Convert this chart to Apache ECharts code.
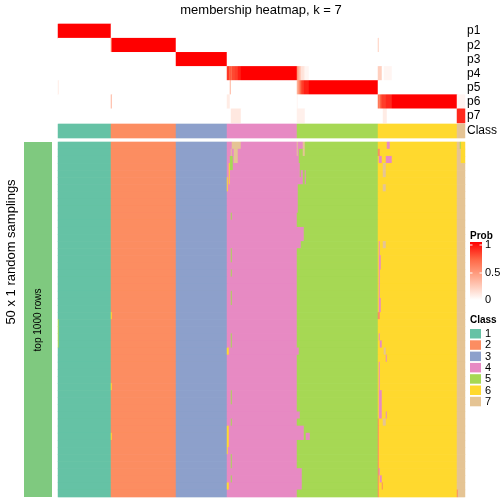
<!DOCTYPE html>
<html><head><meta charset="utf-8">
<script src="https://cdn.jsdelivr.net/npm/echarts@6/dist/echarts.min.js"></script>
<style>html,body{margin:0;padding:0;background:#fff}#c{width:504px;height:504px}</style>
</head><body><div id="c"></div>
<script>
// ---- data ----
const classNames = ['1', '2', '3', '4', '5', '6', '7'];
const classColors = ['#66C2A5', '#FC8D62', '#8DA0CB', '#E78AC3', '#A6D854', '#FFD92F', '#E5C494'];
const classCounts = [53, 65, 51, 70, 81, 79, 8];          // samples per consensus class
const probRowLabels = ['p1', 'p2', 'p3', 'p4', 'p5', 'p6', 'p7'];
const nSamplings = 50;
const probTicks = ['0', '0.5', '1'];
// [probRow, colFrom, colTo, value] : membership probabilities differing from 0/1
const probExceptions = [
  [4, 0, 0, 0.1],
  [1, 53, 53, 0.6], [5, 53, 53, 0.4],
  [3, 169, 169, 0.85], [3, 170, 170, 0.9], [3, 171, 171, 0.75], [3, 172, 172, 0.8], [3, 173, 173, 0.7],
  [3, 174, 176, 0.82], [3, 177, 179, 0.85], [3, 180, 182, 0.92],
  [4, 172, 172, 0.4], [5, 169, 171, 0.1], [6, 173, 182, 0.12],
  [3, 239, 239, 0.55], [3, 240, 240, 0.45], [3, 241, 241, 0.35], [3, 242, 242, 0.3], [3, 243, 245, 0.15],
  [3, 246, 246, 0.1], [3, 247, 250, 0.05],
  [4, 239, 239, 0.4], [4, 240, 240, 0.5], [4, 241, 241, 0.6], [4, 242, 242, 0.7], [4, 243, 243, 0.8],
  [4, 244, 245, 0.85], [4, 246, 250, 0.92],
  [6, 239, 246, 0.08], [5, 239, 239, 0.05],
  [1, 320, 320, 0.25], [3, 320, 323, 0.25], [3, 326, 333, 0.05], [6, 325, 328, 0.1],
  [5, 320, 320, 0.7], [5, 321, 321, 0.6], [5, 322, 322, 0.75], [5, 323, 323, 0.8],
  [5, 324, 327, 0.85], [5, 328, 333, 0.9],
  [6, 399, 406, 0.9], [5, 399, 406, 0.06]
];
// [rowFrom, rowTo, colFrom, colTo, class] : sampling rows where a sample got another class
const samplingExceptions = [
  [25, 28, 0, 0, 5],
  [24, 24, 53, 53, 6], [34, 34, 53, 53, 6], [41, 41, 53, 53, 6],
  [0, 0, 174, 182, 7], [1, 1, 173, 173, 7], [1, 2, 176, 179, 7], [2, 3, 172, 174, 5],
  [3, 5, 171, 171, 6], [5, 6, 169, 169, 6],
  [10, 10, 173, 173, 5], [15, 16, 173, 173, 5], [18, 18, 173, 173, 5], [21, 22, 173, 173, 5],
  [27, 28, 173, 173, 5], [35, 36, 173, 173, 5], [39, 39, 173, 173, 5], [44, 45, 173, 173, 5], [47, 47, 173, 173, 5],
  [29, 29, 169, 170, 6], [40, 42, 169, 170, 6], [43, 43, 169, 169, 6], [48, 48, 169, 170, 6],
  [0, 0, 239, 239, 7], [0, 0, 240, 244, 4], [0, 0, 245, 246, 7],
  [1, 1, 239, 239, 7], [1, 1, 240, 240, 4], [1, 1, 245, 246, 7],
  [2, 2, 239, 240, 4], [3, 3, 239, 241, 4], [4, 5, 239, 244, 4], [4, 5, 247, 247, 4], [4, 4, 242, 242, 5],
  [6, 9, 239, 239, 4], [12, 13, 239, 245, 4], [14, 14, 239, 242, 4],
  [29, 29, 239, 240, 4], [38, 38, 239, 241, 4], [40, 41, 239, 245, 4], [41, 41, 248, 251, 4], [46, 48, 239, 243, 4],
  [0, 0, 329, 331, 4], [1, 1, 320, 321, 2], [2, 2, 321, 323, 4], [2, 2, 328, 333, 4],
  [3, 4, 325, 327, 7], [6, 6, 325, 327, 7], [14, 14, 325, 327, 7],
  [14, 15, 321, 321, 4], [16, 17, 321, 322, 4], [18, 21, 321, 321, 4], [22, 23, 321, 322, 4],
  [24, 24, 320, 321, 2], [27, 27, 321, 321, 4], [28, 28, 322, 323, 4], [29, 29, 326, 327, 7], [30, 30, 328, 328, 4],
  [31, 38, 321, 321, 4], [35, 38, 322, 323, 4], [38, 38, 328, 328, 4], [39, 39, 325, 327, 7], [39, 39, 320, 320, 2],
  [40, 49, 320, 320, 2], [46, 46, 321, 321, 4], [47, 47, 322, 323, 4], [48, 48, 324, 324, 2],
  [0, 2, 403, 406, 6], [0, 0, 402, 402, 5], [49, 49, 399, 399, 2]
];

// ---- build ----
const sampleClass = [];
classCounts.forEach((n, k) => { for (let i = 0; i < n; i++) sampleClass.push(k + 1); });
const colCats = sampleClass.map((_, i) => String(i));

const probMat = probRowLabels.map((_, r) => sampleClass.map(c => (c === r + 1 ? 1 : 0)));
probExceptions.forEach(([r, a, b, v]) => { for (let c = a; c <= b; c++) probMat[r][c] = v; });
const probData = [];
probMat.forEach((row, r) => row.forEach((v, c) => probData.push([c, r, v])));

const classData = sampleClass.map((k, c) => [c, 0, k]);

const sampMat = [];
for (let r = 0; r < nSamplings; r++) sampMat.push(sampleClass.slice());
samplingExceptions.forEach(([r0, r1, a, b, k]) => {
  for (let r = r0; r <= r1; r++) for (let c = a; c <= b; c++) sampMat[r][c] = k;
});
const sampData = [];
sampMat.forEach((row, r) => row.forEach((k, c) => sampData.push([c, r, k])));
const rowCats = sampMat.map((_, i) => String(i));

const FONT = 'Liberation Sans, Arial, sans-serif';
const L = 58, W = 407;
const chart = echarts.init(document.getElementById('c'), null, { renderer: 'canvas' });

const pieces = classNames.map((n, i) => ({ value: i + 1, color: classColors[i] }));

const graphics = [
  { type: 'text', x: 261, y: 10, style: { text: 'membership heatmap, k = 7', font: '13px ' + FONT, fill: '#000', align: 'center', verticalAlign: 'middle' } },
  { type: 'rect', shape: { x: 24, y: 142, width: 28, height: 355 }, style: { fill: '#7FC97F' } },
  { type: 'text', x: 38, y: 320, rotation: Math.PI / 2,
    style: { text: 'top 1000 rows', font: '10px ' + FONT, fill: '#000', align: 'center', verticalAlign: 'middle' } },
  { type: 'text', x: 11, y: 252, rotation: Math.PI / 2,
    style: { text: '50 x 1 random samplings', font: '13px ' + FONT, fill: '#000', align: 'center', verticalAlign: 'middle' } },
  { type: 'text', x: 470, y: 236, style: { text: 'Prob', font: 'bold 10px ' + FONT, fill: '#000', verticalAlign: 'middle' } },
  { type: 'rect', shape: { x: 470, y: 242, width: 12, height: 58 },
    style: { fill: new echarts.graphic.LinearGradient(0, 0, 0, 1, [
      { offset: 0, color: '#FF0000' }, { offset: 0.3, color: '#FF6746' },
      { offset: 0.55, color: '#FF9E81' }, { offset: 0.78, color: '#FFCFBF' }, { offset: 1, color: '#FFFFFF' }]) } },
  { type: 'text', x: 470, y: 320, style: { text: 'Class', font: 'bold 10px ' + FONT, fill: '#000', verticalAlign: 'middle' } }
];
const tickY = [300, 273, 245];
probTicks.forEach((t, i) => {
  graphics.push({ type: 'text', x: 485, y: tickY[i], style: { text: t, font: '11px ' + FONT, fill: '#000', verticalAlign: 'middle' } });
  if (i > 0) {
    graphics.push({ type: 'line', shape: { x1: 470, y1: tickY[i], x2: 472.5, y2: tickY[i] }, style: { stroke: '#fff', lineWidth: 1 } });
    graphics.push({ type: 'line', shape: { x1: 479.5, y1: tickY[i], x2: 482, y2: tickY[i] }, style: { stroke: '#fff', lineWidth: 1 } });
  }
});
classNames.forEach((n, i) => {
  const y = 329 + i * 11.3;
  graphics.push({ type: 'rect', shape: { x: 470, y: y, width: 11, height: 9.5 }, style: { fill: classColors[i] } });
  graphics.push({ type: 'text', x: 485, y: y + 5, style: { text: n, font: '11px ' + FONT, fill: '#000', verticalAlign: 'middle' } });
});

const hideAxis = { show: false };
chart.setOption({
  animation: false,
  backgroundColor: '#fff',
  textStyle: { fontFamily: FONT },
  grid: [
    { left: L, top: 24, width: W, height: 99 },
    { left: L, top: 124, width: W, height: 14 },
    { left: L, top: 142, width: W, height: 355 }
  ],
  xAxis: [0, 1, 2].map(g => ({ type: 'category', gridIndex: g, data: colCats, show: false })),
  yAxis: [
    { type: 'category', gridIndex: 0, data: probRowLabels, inverse: true, position: 'right',
      axisLine: hideAxis, axisTick: hideAxis, splitLine: hideAxis,
      axisLabel: { color: '#000', fontSize: 12, margin: 2, interval: 0, fontFamily: FONT } },
    { type: 'category', gridIndex: 1, data: ['Class'], position: 'right',
      axisLine: hideAxis, axisTick: hideAxis, splitLine: hideAxis,
      axisLabel: { color: '#000', fontSize: 12, margin: 2, interval: 0, fontFamily: FONT } },
    { type: 'category', gridIndex: 2, data: rowCats, inverse: true, show: false }
  ],
  visualMap: [
    { type: 'continuous', seriesIndex: 0, min: 0, max: 1, show: false,
      inRange: { color: ['#FFFFFF', '#FFCFBF', '#FF9E81', '#FF6746', '#FF0000'] } },
    { type: 'piecewise', seriesIndex: [1, 2], show: false, pieces: pieces }
  ],
  series: [
    { type: 'heatmap', xAxisIndex: 0, yAxisIndex: 0, data: probData, progressive: 0 },
    { type: 'heatmap', xAxisIndex: 1, yAxisIndex: 1, data: classData, progressive: 0 },
    { type: 'heatmap', xAxisIndex: 2, yAxisIndex: 2, data: sampData, progressive: 0 }
  ],
  graphic: graphics
});
</script></body></html>
